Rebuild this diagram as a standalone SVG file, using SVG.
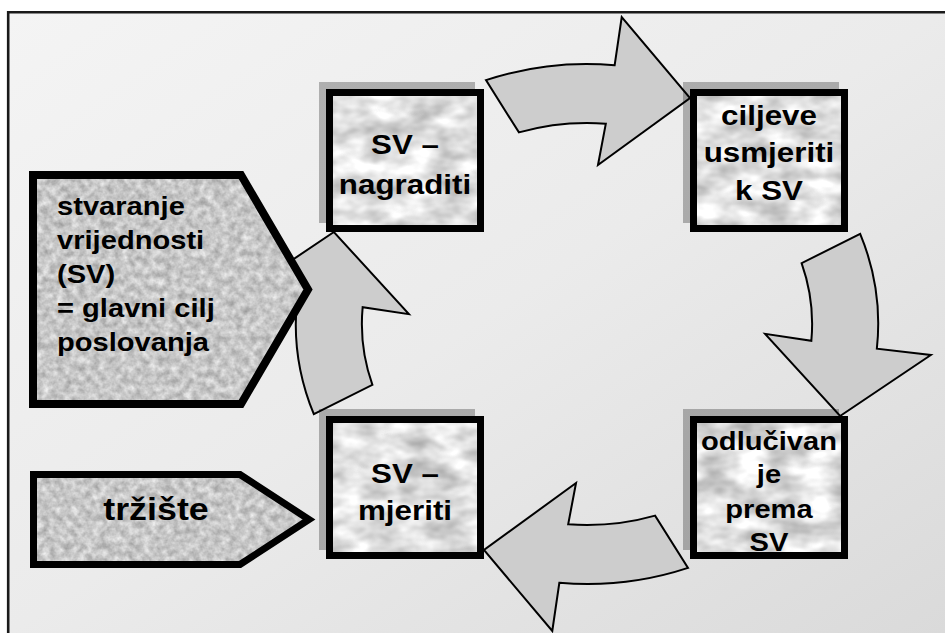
<svg xmlns="http://www.w3.org/2000/svg" xmlns:xlink="http://www.w3.org/1999/xlink" width="945" height="633" viewBox="0 0 945 633">
<style>
  .t { font-family: "Liberation Sans", Arial, sans-serif; font-weight: bold; fill: #000; }
  .c { text-anchor: middle; }
  .edge { fill: none; stroke: #000; stroke-linejoin: miter; }
  .shadow { fill: #000; fill-opacity: 0.27; }
  .arrow { fill: #cdcdcd; stroke: #000; stroke-width: 2; stroke-linejoin: miter; }
</style>
<defs>
  <linearGradient id="bg" x1="0" y1="0" x2="1" y2="1">
    <stop offset="0" stop-color="#f4f4f4"/>
    <stop offset="0.5" stop-color="#ebebeb"/>
    <stop offset="1" stop-color="#dadada"/>
  </linearGradient>
  <filter id="texA" x="0" y="0" width="1" height="1" color-interpolation-filters="sRGB">
    <feTurbulence type="fractalNoise" baseFrequency="0.14" numOctaves="3" seed="7"/>
    <feColorMatrix type="matrix" values="0.4 0 0 0 0.58  0.4 0 0 0 0.58  0.4 0 0 0 0.58  0 0 0 0 1"/>
    <feComposite operator="in" in2="SourceGraphic"/>
  </filter>
  <filter id="texB" x="0" y="0" width="1" height="1" color-interpolation-filters="sRGB">
    <feTurbulence type="fractalNoise" baseFrequency="0.03 0.05" numOctaves="3" seed="11"/>
    <feColorMatrix type="matrix" values="0.55 0 0 0 0.6  0.55 0 0 0 0.6  0.55 0 0 0 0.6  0 0 0 0 1"/>
    <feComposite operator="in" in2="SourceGraphic"/>
  </filter>
  <path id="arr" class="arrow" vector-effect="non-scaling-stroke" d="M -90.2,-243.9 A 260 260 0 0 1 24.7,-258.8 L 31,-307 L 92,-226 L 9.8,-159 L 16.8,-200.3 A 202 202 0 0 0 -60.8,-191.6 Z"/>
</defs>

<!-- background and frame -->
<rect x="0" y="0" width="945" height="633" fill="#ffffff"/>
<rect x="8" y="12" width="937" height="621" fill="url(#bg)"/>
<path d="M 8.2,633 L 8.2,12.2 L 945,12.2" fill="none" stroke="#1a1a1a" stroke-width="2.6"/>

<!-- connectors: four curved block arrows -->
<g id="connectors" transform="translate(587,324) scale(1.12,1)">
  <use xlink:href="#arr"/>
  <use xlink:href="#arr" transform="rotate(90)"/>
  <use xlink:href="#arr" transform="rotate(180)"/>
  <use xlink:href="#arr" transform="rotate(270)"/>
</g>

<!-- node: stvaranje vrijednosti -->
<g id="node-stvaranje">
  <path d="M33,175 L241,175 L308,289.5 L241,404 L33,404 Z" fill="#c6c6c6" filter="url(#texA)"/>
  <path class="edge" stroke-width="8" d="M33,175 L241,175 L308,289.5 L241,404 L33,404 Z"/>
  <g class="t" font-size="26">
    <text transform="matrix(1.12,0,0,1,57,215)">stvaranje</text>
    <text transform="matrix(1.12,0,0,1,57,249)">vrijednosti</text>
    <text transform="matrix(1.12,0,0,1,57,283)">(SV)</text>
    <text transform="matrix(1.12,0,0,1,57,317)">= glavni cilj</text>
    <text transform="matrix(1.12,0,0,1,57,351)">poslovanja</text>
  </g>
</g>

<!-- node: trziste -->
<g id="node-trziste">
  <path d="M33.5,474.5 L240,474.5 L309,519.5 L240,564.5 L33.5,564.5 Z" fill="#c6c6c6" filter="url(#texA)"/>
  <path class="edge" stroke-width="7" d="M33.5,474.5 L240,474.5 L309,519.5 L240,564.5 L33.5,564.5 Z"/>
  <text class="t c" font-size="32" transform="matrix(1.12,0,0,1,156,520)">tržište</text>
</g>

<!-- node: SV nagraditi -->
<g id="node-nagraditi">
  <rect class="shadow" x="319" y="82" width="156" height="141"/>
  <rect x="326" y="89" width="158" height="143" fill="#dcdcdc" filter="url(#texB)"/>
  <rect class="edge" stroke-width="7" x="329.5" y="92.5" width="151" height="136"/>
  <g class="t c" font-size="28">
    <text transform="matrix(1.12,0,0,1,405,154)">SV –</text>
    <text transform="matrix(1.12,0,0,1,405,194)">nagraditi</text>
  </g>
</g>

<!-- node: ciljeve usmjeriti k SV -->
<g id="node-ciljeve">
  <rect class="shadow" x="683" y="82" width="156" height="141"/>
  <rect x="690" y="89" width="158" height="143" fill="#dcdcdc" filter="url(#texB)"/>
  <rect class="edge" stroke-width="7" x="693.5" y="92.5" width="151" height="136"/>
  <g class="t c" font-size="28">
    <text transform="matrix(1.12,0,0,1,769,125)">ciljeve</text>
    <text transform="matrix(1.12,0,0,1,769,162)">usmjeriti</text>
    <text transform="matrix(1.12,0,0,1,769,200)">k SV</text>
  </g>
</g>

<!-- node: odlucivanje prema SV -->
<g id="node-odlucivanje">
  <rect class="shadow" x="683" y="409" width="156" height="141"/>
  <rect x="690" y="416" width="158" height="143" fill="#dcdcdc" filter="url(#texB)"/>
  <g class="t c" font-size="26">
    <text transform="matrix(1.12,0,0,1,769,450)">odlučivan</text>
    <text transform="matrix(1.12,0,0,1,769,483)">je</text>
    <text transform="matrix(1.12,0,0,1,769,518)">prema</text>
    <text transform="matrix(1.12,0,0,1,769,551)">SV</text>
  </g>
  <rect class="edge" stroke-width="7" x="693.5" y="419.5" width="151" height="136"/>
</g>

<!-- node: SV mjeriti -->
<g id="node-mjeriti">
  <rect class="shadow" x="319" y="409" width="156" height="141"/>
  <rect x="326" y="416" width="158" height="143" fill="#dcdcdc" filter="url(#texB)"/>
  <rect class="edge" stroke-width="7" x="329.5" y="419.5" width="151" height="136"/>
  <g class="t c" font-size="28">
    <text transform="matrix(1.12,0,0,1,405,483)">SV –</text>
    <text transform="matrix(1.12,0,0,1,405,520)">mjeriti</text>
  </g>
</g>
</svg>
